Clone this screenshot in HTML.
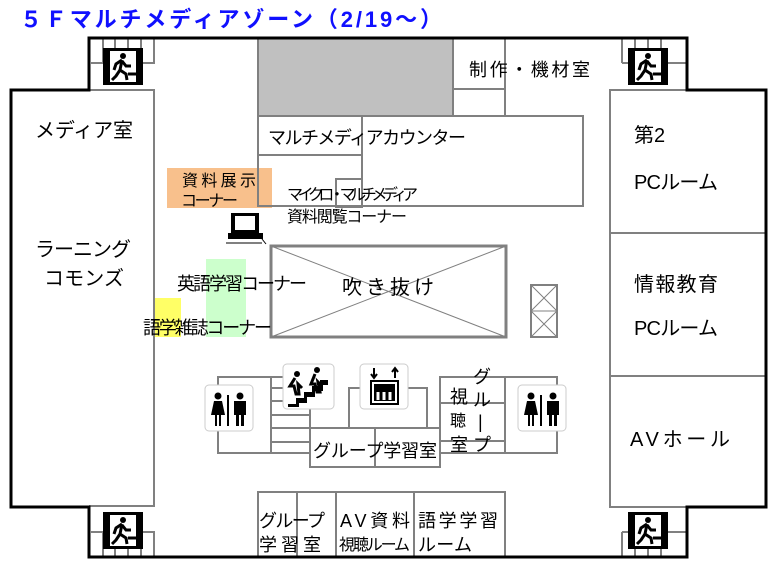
<!DOCTYPE html>
<html><head><meta charset="utf-8"><style>
body{margin:0;background:#fff}
svg text{font-family:"Liberation Sans","Noto Sans CJK JP",sans-serif;fill:#000}
</style></head><body>
<svg width="778" height="572" viewBox="0 0 778 572" xmlns="http://www.w3.org/2000/svg">
<defs>
<g id="exit">
<rect x="0" y="0" width="40" height="37" fill="#000"/>
<rect x="7" y="3" width="26" height="31" fill="#fff"/>
<circle cx="20" cy="8" r="3" fill="#000"/>
<path d="M19 12l-6 4-2 6M19 12l-2 10 6 4 1 6M17 22l-4 6-4 4M19 13l4 5h5M25 26h8" stroke="#000" stroke-width="3" fill="none"/>
</g>
<g id="wc">
<rect x="0" y="0" width="48" height="46" rx="4" fill="#fff" stroke="#ccc"/>
<circle cx="13" cy="11" r="3.5" fill="#000"/>
<path d="M9 16h8l3 14h-4v11h-2v-11h-2v11h-2v-11h-4z" fill="#000"/>
<rect x="22" y="10" width="2" height="31" fill="#000"/>
<circle cx="35" cy="11" r="3.5" fill="#000"/>
<path d="M29 16h12v14h-2v11h-3v-11h-2v11h-3v-11h-2z" fill="#000"/>
</g>
</defs>
<text x="20" y="27" font-size="22" font-weight="bold" style="fill:#1010ff" textLength="422">５Ｆマルチメディアゾーン（2/19～）</text>
<rect x="167" y="168" width="105" height="40" fill="#f8c08c"/>
<rect x="206" y="259" width="40" height="78" fill="#ccffcc"/>
<rect x="155" y="298" width="26" height="39" fill="#ffff66"/>
<rect x="258" y="38" width="195" height="78" fill="#c0c0c0"/>
<g fill="none" stroke="#808080" stroke-width="2">
<path d="M89 90H154V506H89"/>
<path d="M687 90H610V507H687M610 233H766M610 376H766"/>
<path d="M258 38V116H453V38M453 89H505M505 38V116"/>
<rect x="258" y="116" width="325" height="90"/>
<path d="M362 116V206M258 155H362"/>
<rect x="336" y="179" width="26" height="28"/>
<path d="M91 63H154V38M103 38V63M115 38V48M128 38V48M141 38V63"/>
<path d="M622 63H687M622 38V63M635 38V48M648 38V48M661 38V63"/>
<path d="M91 532H154V557M103 532V557M115 547V557M128 547V557M141 532V557"/>
<path d="M622 532H687M622 532V557M635 547V557M648 547V557M661 532V557"/>
<rect x="271" y="246" width="235" height="91" stroke-width="3"/>
<path d="M271 246L506 337M506 246L271 337" stroke-width="1"/>
<rect x="531" y="285" width="26" height="52"/>
<path d="M531 311H557M531 285L557 311M557 285L531 311M531 311L557 337M557 311L531 337" stroke-width="1"/>
<rect x="218" y="377" width="53" height="76"/>
<path d="M271 377H310V467M271 388H310M271 401H310M271 415H310M271 428H310M271 442H310M271 453H310"/>
<rect x="310" y="428" width="130" height="39"/>
<path d="M375 428V467M349 428V388H360M427 428V388H408"/>
<path d="M440 467V377H505V453H440M440 403H505M440 441H505"/>
<rect x="505" y="377" width="52" height="76"/>
<path d="M258 557V492H505V557M297 492V557M336 492V557M414 492V557"/>
</g>
<path d="M89 38H687V90H766V507H687V557H89V507H11V90H89Z" fill="none" stroke="#000" stroke-width="3"/>
<use href="#exit" x="103" y="48"/><use href="#exit" x="628" y="48"/>
<use href="#exit" x="103" y="512"/><use href="#exit" x="628" y="512"/>
<use href="#wc" x="205" y="385"/><use href="#wc" x="518" y="385"/>
<g fill="#fff" stroke="#ccc" stroke-width="1">
<rect x="283" y="364" width="51" height="45" rx="4"/>
<rect x="360" y="364" width="48" height="45" rx="4"/>
</g>
<path d="M288 404H296V398H304V392H312V386H320V380H328V385H323V391H315V397H307V403H299V407H288Z" fill="#000"/>
<circle cx="297" cy="374" r="3"/><circle cx="317" cy="370" r="3"/>
<path d="M295 378l-5 8h4l2 8h3l-1-10 4 4M315 374l-4 10h4l2 8h3l-2-10 4 4" stroke="#000" stroke-width="3" fill="none"/>
<rect x="371" y="381" width="27" height="23" fill="none" stroke="#000" stroke-width="2"/>
<rect x="374" y="384" width="21" height="17" fill="#000"/>
<path d="M378 392v8M384 392v8M390 392v8" stroke="#fff" stroke-width="3"/>
<path d="M374 368v10m-3-4l3 4 3-4M395 378v-10m-3 4l3-4 3 4" stroke="#000" stroke-width="2" fill="none"/>
<rect x="231" y="213" width="28" height="20" fill="#000"/><rect x="235" y="216" width="20" height="14" fill="#fff"/>
<rect x="228" y="233" width="35" height="6" fill="#000"/><path d="M226 243H262M262 239l4 5" stroke="#000" stroke-width="1"/>
<g font-size="20">
<text x="35" y="137" textLength="98">メディア室</text>
<text x="35" y="256" textLength="96">ラーニング</text>
<text x="44" y="285" textLength="80">コモンズ</text>
<text x="634" y="142">第2</text>
<text x="634" y="189" textLength="84">PCルーム</text>
<text x="634" y="291" textLength="84">情報教育</text>
<text x="634" y="335" textLength="84">PCルーム</text>
<text x="630" y="446" textLength="100">AVホール</text>
<text x="342" y="294" textLength="92">吹き抜け</text>
</g>
<g font-size="18">
<text x="469" y="76" textLength="121">制作・機材室</text>
<text x="268" y="144" textLength="198">マルチメディアカウンター</text>
<text x="177" y="290" textLength="130">英語学習コーナー</text>
<text x="143" y="334" textLength="129">語学雑誌コーナー</text>
<text x="313" y="457" textLength="124">グループ学習室</text>
<text x="450" y="403">視</text><text x="450" y="451">室</text>
<text x="473" y="383">グ</text><text x="473" y="406">ル</text><text x="478" y="428">|</text><text x="473" y="451">プ</text>
<text x="259" y="527" textLength="66">グループ</text><text x="259" y="551" textLength="62">学習室</text>
<text x="340" y="527" textLength="70">AV資料</text>
<text x="418" y="527" textLength="80">語学学習</text><text x="418" y="551" textLength="54">ルーム</text>
</g>
<g font-size="16">
<text x="182" y="186" textLength="74">資料展示</text>
<text x="181" y="206" textLength="57">コーナー</text>
<text x="287" y="200" textLength="131">マイクロ・マルチメディア</text>
<text x="287" y="222" textLength="120">資料閲覧コーナー</text>
<text x="450" y="426">聴</text>
<text x="339" y="550" textLength="71">視聴ルーム</text>
</g>
</svg>
</body></html>
